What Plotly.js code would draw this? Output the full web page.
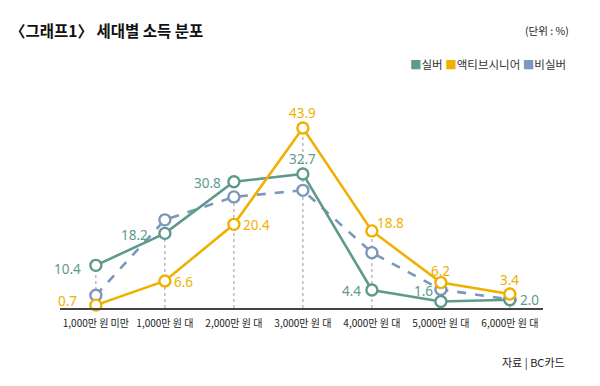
<!DOCTYPE html>
<html><head><meta charset="utf-8">
<script src="https://cdn.plot.ly/plotly-3.0.1.min.js"></script>
<style>body{margin:0;background:#fff}#c{width:600px;height:386px}</style>
</head><body><div id="c"></div>
<script>
var categories = ["1,000만 원 미만","1,000만 원 대","2,000만 원 대","3,000만 원 대","4,000만 원 대","5,000만 원 대","6,000만 원 대"];
var silver = [10.4, 18.2, 30.8, 32.7, 4.4, 1.6, 2.0];
var activeSenior = [0.7, 6.6, 20.4, 43.9, 18.8, 6.2, 3.4];
var nonSilver = [3.1, 21.5, 27.1, 28.7, 13.5, 4.5, 2.1];
var seriesNames = ["실버", "액티브시니어", "비실버"];
var silverLabels = ["10.4","18.2","30.8","32.7","4.4","1.6","2.0"];
var activeLabels = ["0.7","6.6","20.4","43.9","18.8","6.2","3.4"];

var C_SILVER = "#5e9a8c", C_ACTIVE = "#f0b000", C_NON = "#7b97bd";
var xs = categories.map(function(_, i){ return i; });

function trace(y, color, dash, name){
  return {x: xs, y: y, type: "scatter", mode: "lines+markers", name: name,
    line: {color: color, width: 2.6, dash: dash},
    marker: {symbol: "circle", size: 11, color: "#fff", line: {color: color, width: 2.4}},
    hoverinfo: "skip", cliponaxis: false};
}
var data = [
  trace(nonSilver, C_NON, "dash", seriesNames[2]),
  trace(silver, C_SILVER, "solid", seriesNames[0]),
  trace(activeSenior, C_ACTIVE, "solid", seriesNames[1])
];

// label offsets (pixels) — styling only
var silverOff = [[-28,-4],[-30,-2],[-26,-1],[0,15],[-20,-1],[-17,10],[20,0]];
var activeOff = [[-28,4],[19,-1],[23,-1],[0,15],[19,8],[0,12],[0,14]];

var annotations = [];
function addLabels(vals, labels, off, color){
  vals.forEach(function(v, i){
    annotations.push({x: i, y: v, xref: "x", yref: "y", text: labels[i], showarrow: false,
      xshift: off[i][0], yshift: off[i][1],
      font: {family: "Noto Sans, Arial, sans-serif", size: 13.5, color: color}});
  });
}
addLabels(silver, silverLabels, silverOff, C_SILVER);
addLabels(activeSenior, activeLabels, activeOff, C_ACTIVE);

annotations.push({xref: "paper", yref: "paper", x: -0.107, y: 1.0, xanchor: "left", yanchor: "middle",
  yshift: 73, text: "〈그래프1〉 세대별 소득 분포", showarrow: false,
  font: {family: "Noto Sans CJK KR, sans-serif", size: 15.5, color: "#111", weight: 700}});
annotations.push({xref: "paper", yref: "paper", x: 1.058, y: 1.0, xanchor: "right", yanchor: "middle",
  yshift: 73, text: "(단위 : %)", showarrow: false,
  font: {family: "Noto Sans CJK KR, sans-serif", size: 10.5, color: "#222"}});
annotations.push({xref: "paper", yref: "paper", x: 1.052, y: 1.0, xanchor: "right", yanchor: "middle",
  yshift: 39,
  text: '<span style="color:' + C_SILVER + '">■</span>' + seriesNames[0] +
        ' <span style="color:' + C_ACTIVE + '">■</span>' + seriesNames[1] +
        ' <span style="color:' + C_NON + '">■</span>' + seriesNames[2],
  showarrow: false, font: {family: "Noto Sans CJK KR, sans-serif", size: 11.5, color: "#333"}});
annotations.push({xref: "paper", yref: "paper", x: 1.05, y: 0, xanchor: "right", yanchor: "middle",
  yshift: -54, text: "자료 | BC카드", showarrow: false,
  font: {family: "Noto Sans CJK KR, sans-serif", size: 11, color: "#222"}});

// dotted guides from highest marker down to baseline
var shapes = xs.map(function(i){
  var top = Math.max(silver[i], activeSenior[i], nonSilver[i]);
  return {type: "line", xref: "x", yref: "y", x0: i, x1: i, y0: 0, y1: top,
    line: {color: "#999", width: 1, dash: "dot"}, layer: "below"};
});

var layout = {
  width: 600, height: 386,
  margin: {l: 60, r: 57, t: 103, b: 78},
  paper_bgcolor: "#fff", plot_bgcolor: "#fff",
  showlegend: false,
  xaxis: {range: [-0.52, 6.48], tickmode: "array", tickvals: xs, ticktext: categories,
    showgrid: false, zeroline: false, showline: true, linecolor: "#444", linewidth: 1.6,
    ticks: "", ticklen: 0, ticklabelstandoff: 5,
    tickfont: {family: "Noto Sans CJK KR, sans-serif", size: 10, color: "#222"}},
  yaxis: {range: [0, 50], visible: false, showgrid: false, zeroline: false},
  annotations: annotations,
  shapes: shapes,
  font: {family: "Noto Sans CJK KR, sans-serif"}
};
Plotly.newPlot("c", data, layout, {staticPlot: true, displayModeBar: false});
</script>
</body></html>
